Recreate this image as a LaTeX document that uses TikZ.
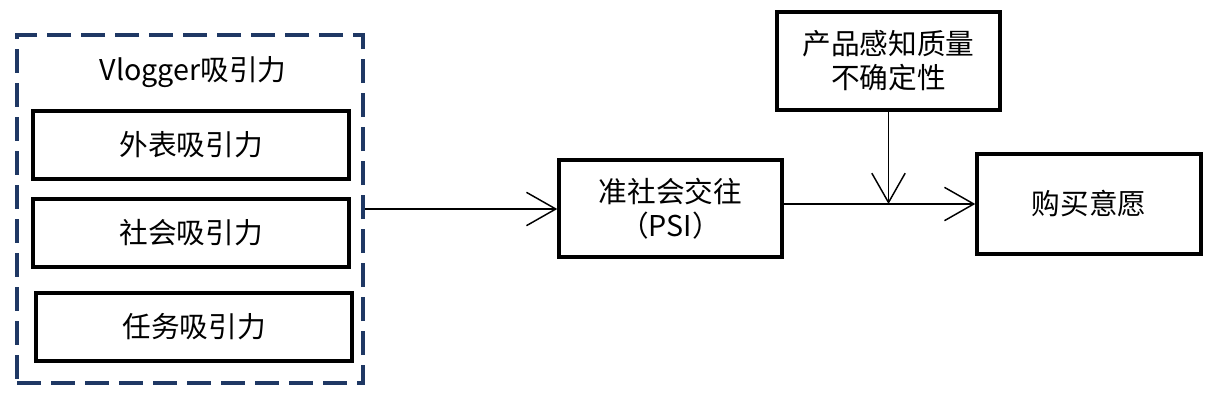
\documentclass[tikz,border=0pt]{standalone}
\usepackage{fontspec}
\setmainfont{Noto Sans CJK SC}
\usepackage{tikz}
\usetikzlibrary{positioning,arrows.meta}
\definecolor{FrameNavy}{RGB}{31,56,100}

\begin{document}
\begin{tikzpicture}[x=0.75pt,y=-0.75pt,
	font=\fontsize{21.5}{25.5}\selectfont,
	factorbox/.style={draw=black,line width=2.6pt,minimum width=316*0.75pt,minimum height=68*0.75pt,inner sep=0pt},
	mainbox/.style={draw=black,line width=2.6pt,minimum width=223*0.75pt,minimum height=98*0.75pt,align=center,inner sep=0pt},
	flow/.style={-{Straight Barb[length=22pt,width=25pt]},line width=1.1pt}
	]
	
	\useasboundingbox (0,0) rectangle (1209,404);
	
	% dashed group
	\node[
	draw=FrameNavy,
	line width=2.6pt,
	dash pattern=on 18pt off 7.5pt,
	minimum width=346*0.75pt,
	minimum height=348*0.75pt
	]
	(V) at (190,209) {};
	
	\node (VT) at (193,72) {Vlogger吸引力};
	
	\node[factorbox] (A) at (191,145) {外表吸引力};
	\node[factorbox] (S) at (191,233) {社会吸引力};
	\node[factorbox] (T) at (194,327) {任务吸引力};
	
	% mediator, moderator, outcome
	\node[mainbox,minimum height=97*0.75pt] (P) at (670.5,208.5) {准社会交往\\（PSI）};
	\node[mainbox] (Q) at (888.5,61) {产品感知质量\\不确定性};
	\node[mainbox,minimum width=224*0.75pt,minimum height=100*0.75pt] (B) at (1089,204) {购买意愿};
	
	\coordinate (J) at (Q.south |- B.west);
	
	\draw[flow] (V.east) -- (V.east -| P.west);
	\draw[flow] (P.east |- B.west) -- (B.west);
	\draw[flow] (Q.south) -- (J);
	
\end{tikzpicture}
\end{document}
